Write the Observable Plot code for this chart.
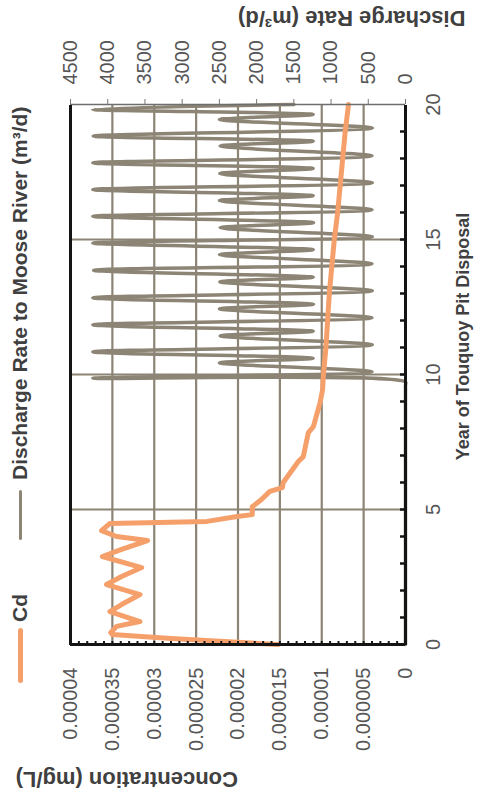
<!DOCTYPE html>
<html>
<head>
<meta charset="utf-8">
<script src="https://cdn.jsdelivr.net/npm/d3@7"></script>
<script src="https://cdn.jsdelivr.net/npm/@observablehq/plot@0.6"></script>
<style>
  html, body { margin: 0; padding: 0; background: #fff; overflow: hidden; width: 483px; height: 803px; }
  #rot { position: absolute; left: 0; top: 0; width: 803px; height: 483px; transform-origin: 0 0; transform: translate(0px, 803px) rotate(-90deg); background: #fff; }
  #chart { position: absolute; left: 0; top: 0; }
  .lg-line { position: absolute; border-radius: 3px; }
  .lg-text { position: absolute; top: 0; height: 40px; line-height: 40px; font-family: "Liberation Sans", Arial, sans-serif; font-weight: bold; font-size: 21px; color: #404040; white-space: nowrap; }
</style>
</head>
<body>
<div id="rot">
  <div id="chart"></div>
  <div class="lg-line" style="left:120px; top:17.5px; width:55px; height:5px; background:#f5a06b;"></div>
  <div class="lg-text" style="left:181px;">Cd</div>
  <div class="lg-line" style="left:263px; top:18.5px; width:50px; height:3.5px; background:#8c8474;"></div>
  <div class="lg-text" style="left:323px;">Discharge Rate to Moose River (m³/d)</div>
</div>
<script>
// ---- data ----
const concYear = [0, 0.22, 0.37, 0.44, 0.67, 0.85, 1.22, 1.48, 1.85, 2.22, 2.52, 2.85, 3.26, 3.52, 3.85, 4.0, 4.22, 4.48, 4.56, 4.74, 4.81, 5.1, 5.37, 5.67, 5.81, 6.0, 6.78, 6.96, 7.85, 8.07, 8.96, 9.44, 10, 11, 12, 13, 14, 15, 16, 17, 18, 19, 20];
const concValue = [0.0000152, 0.000028, 0.000035, 0.0000352, 0.0000345, 0.0000317, 0.0000353, 0.0000339, 0.0000317, 0.0000357, 0.0000339, 0.0000315, 0.0000362, 0.0000339, 0.0000308, 0.0000345, 0.0000363, 0.0000353, 0.0000237, 0.0000201, 0.0000183, 0.0000183, 0.0000172, 0.0000162, 0.0000147, 0.0000146, 0.0000128, 0.0000122, 0.0000116, 0.000011, 0.0000102, 0.0000099, 0.0000098, 0.0000095, 0.0000093, 0.0000091, 0.0000088, 0.0000085, 0.0000081, 0.0000078, 0.0000075, 0.0000072, 0.0000068];

const rateYear = [0, 9.0, 9.6, 9.72, 9.86,
  10.1, 10.43, 10.6, 10.84,
  11.1, 11.43, 11.6, 11.84,
  12.1, 12.43, 12.6, 12.84,
  13.1, 13.43, 13.6, 13.86,
  14.1, 14.44, 14.62, 14.87,
  15.1, 15.44, 15.62, 15.86,
  16.1, 16.44, 16.62, 16.85,
  17.1, 17.44, 17.63, 17.84,
  18.1, 18.46, 18.64, 18.83,
  19.13, 19.44, 19.63, 19.82,
  20];
const rateValue = [0, 0, 0, 0, 4200,
  450, 2500, 1240, 4200,
  445, 2490, 1240, 4200,
  450, 2500, 1235, 4200,
  445, 2495, 1240, 4190,
  450, 2500, 1240, 4200,
  445, 2490, 1235, 4200,
  450, 2500, 1240, 4200,
  445, 2495, 1240, 4200,
  450, 2490, 1240, 4195,
  445, 2500, 1240, 4200,
  1500];

const yearTicks = [0, 5, 10, 15, 20];
const yearMinor = [1, 2, 3, 4, 5, 6, 7, 8, 9, 10, 11, 12, 13, 14, 15, 16, 17, 18, 19];
const concTicks = [0, 0.000005, 0.00001, 0.000015, 0.00002, 0.000025, 0.00003, 0.000035, 0.00004];
const concMinor = [0.000001, 0.000002, 0.000003, 0.000004, 0.000005, 0.000006, 0.000007, 0.000008, 0.000009, 0.00001,
  0.000011, 0.000012, 0.000013, 0.000014, 0.000015, 0.000016, 0.000017, 0.000018, 0.000019, 0.00002,
  0.000021, 0.000022, 0.000023, 0.000024, 0.000025, 0.000026, 0.000027, 0.000028, 0.000029, 0.00003,
  0.000031, 0.000032, 0.000033, 0.000034, 0.000035, 0.000036, 0.000037, 0.000038, 0.000039];
const rateTicks = [0, 500, 1000, 1500, 2000, 2500, 3000, 3500, 4000, 4500];

const concMax = 0.00004, rateMax = 4500;
const k = concMax / rateMax;

const conc = concYear.map((y, i) => ({year: y, value: concValue[i]}));
const rate = rateYear.map((y, i) => ({year: y, value: rateValue[i]}));

const grey = "#8c8474", orange = "#f5a06b", ink = "#141414";

const plot = Plot.plot({
  width: 803,
  height: 483,
  marginLeft: 158,
  marginRight: 105,
  marginTop: 70,
  marginBottom: 78,
  x: {domain: [0, 20]},
  y: {domain: [0, concMax]},
  style: {fontFamily: "'Liberation Sans', Arial, sans-serif", fontSize: "20px", color: "#555", background: "white", overflow: "visible"},
  marks: [
    Plot.ruleY(concTicks.slice(1, -1), {stroke: grey, strokeWidth: 2.2}),
    Plot.ruleX(yearTicks.slice(1, -1), {stroke: grey, strokeWidth: 2.2}),
    Plot.line(rate, {x: "year", y: d => d.value * k, stroke: grey, strokeWidth: 3.5, curve: "catmull-rom", strokeLinejoin: "round"}),
    Plot.line(conc, {x: "year", y: "value", stroke: orange, strokeWidth: 5, strokeLinejoin: "round", strokeLinecap: "round"}),
    Plot.tickX(yearMinor, {x: d => d, insetTop: 330, stroke: ink, strokeWidth: 2.5}),
    Plot.tickY(concMinor, {y: d => d, insetRight: 536, stroke: ink, strokeWidth: 2}),
    Plot.ruleX([20], {stroke: "#6e6e6e", strokeWidth: 1.5}),
    Plot.ruleX([0], {stroke: ink, strokeWidth: 3}),
    Plot.ruleY([0], {stroke: ink, strokeWidth: 3}),
    Plot.ruleY([concMax], {stroke: ink, strokeWidth: 3}),
    Plot.axisX(yearTicks, {anchor: "bottom", tickSize: 0, tickPadding: 20, label: null, fill: "#555", fontSize: 20, tickFormat: d => String(d)}),
    Plot.axisY(concTicks, {anchor: "left", tickSize: 0, tickPadding: 23, label: null, fill: "#555", fontSize: 20, tickFormat: d => String(d)}),
    Plot.axisY(rateTicks.map(r => r * k), {anchor: "right", tickSize: 5, tickPadding: 15, label: null, stroke: "#777", fill: "#555", fontSize: 20, tickFormat: d => String(Math.round(d / k))}),
    Plot.text(["Concentration (mg/L)"], {text: d => d, frameAnchor: "left", dx: -135, rotate: -90, fontWeight: "bold", fontSize: 22, fill: "#404040"}),
    Plot.text(["Discharge Rate (m³/d)"], {text: d => d, frameAnchor: "right", dx: 86, rotate: -90, fontWeight: "bold", fontSize: 22, fill: "#404040"}),
    Plot.text(["Year of Touquoy Pit Disposal"], {text: d => d, frameAnchor: "bottom", dx: 38, dy: 63, fontWeight: "bold", fontSize: 18, fill: "#404040"})
  ]
});
document.getElementById("chart").appendChild(plot);
</script>
</body>
</html>
